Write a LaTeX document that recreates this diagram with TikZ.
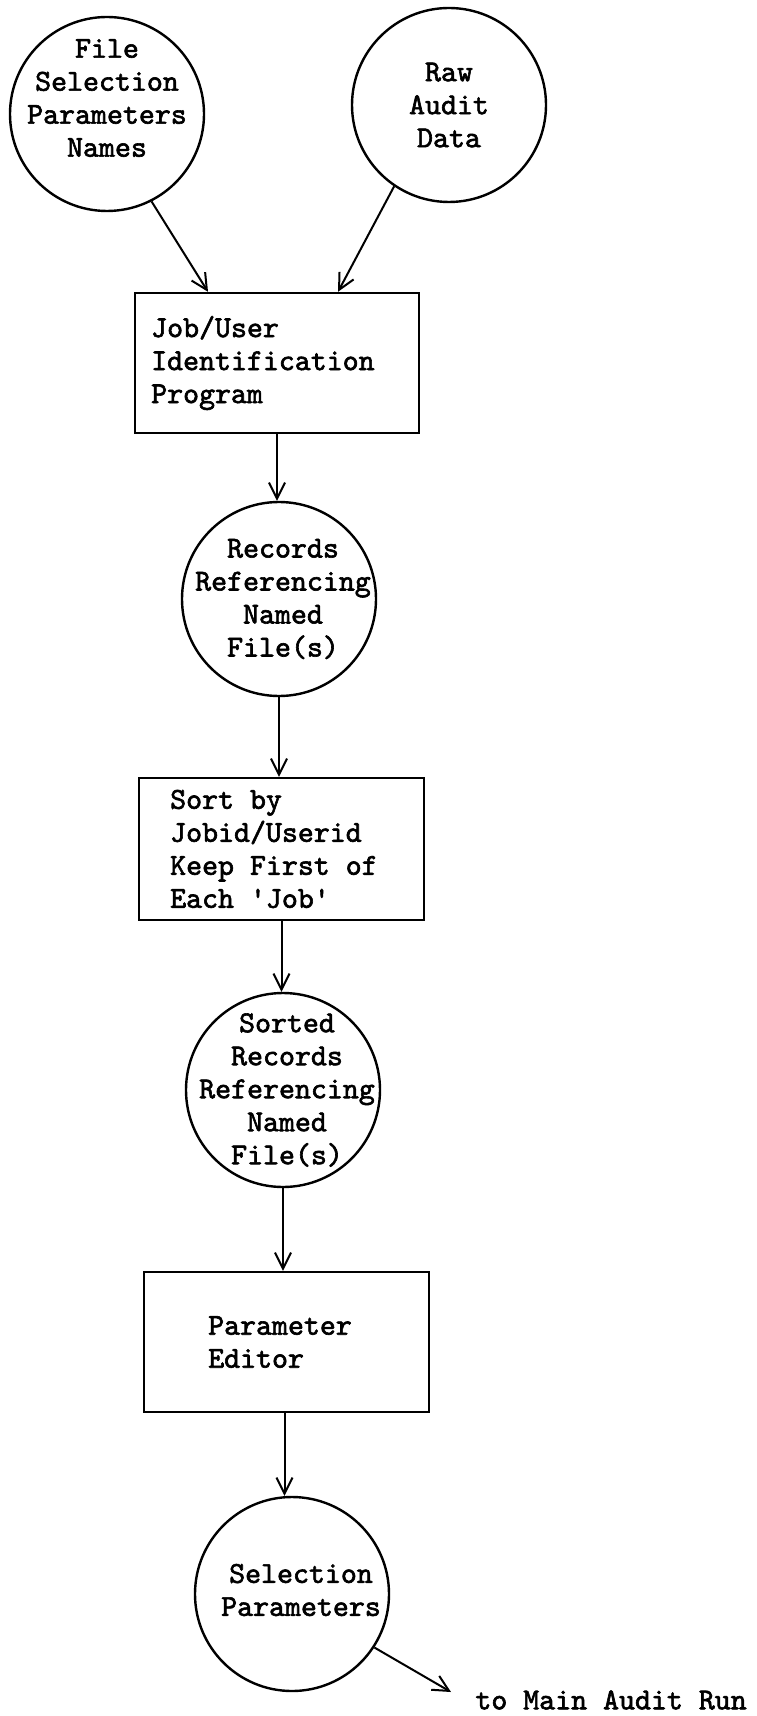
\documentclass[tikz,border=0pt]{standalone}
\usepackage{fontspec}
\newfontfamily\scanfont[FakeBold=2]{lmmono10-regular.otf}
\usetikzlibrary{arrows.meta}
\tikzset{
	store/.style={draw, circle, line width=1.2pt, minimum size=97pt, inner sep=0pt},
	proc/.style={draw, rectangle, line width=1.2pt, minimum width=142.5pt, minimum height=70pt, inner sep=0pt},
	txt/.style={font=\scanfont\fontsize{15.2}{16.5}\selectfont, inner sep=0pt},
	flow/.style={line width=1pt, -{Straight Barb[length=8pt,width=8pt]}}
}

\begin{document}
\begin{tikzpicture}[x=0.5pt,y=-0.5pt]
			%%%%% START %%%%%
			\useasboundingbox[fill=white] (0,0) rectangle (756,1716);
			
			\node[store] (sel) at (107,114) {};
			\node[txt, align=center] (selT) at ([yshift=8pt]sel) {File\\Selection\\Parameters\\Names};
			
			\node[store] (raw) at (449,105) {};
			\node[txt, align=center] (rawT) at (raw) {Raw\\Audit\\Data};
			
			\node[proc, minimum width=142pt] (jobid) at (277,363) {};
			\node[txt, align=left, anchor=west] (jobidT) at ([xshift=8.5pt]jobid.west) {Job/User\\Identification\\Program};
			
			\node[store] (rec) at (279,599) {};
			\node[txt, align=center] (recT) at ([xshift=2pt]rec) {Records\\Referencing\\Named\\File(s)};
			
			\node[proc, minimum height=71pt] (sort) at (281.5,849) {};
			\node[txt, align=left, anchor=west] (sortT) at ([xshift=16pt]sort.west) {Sort by\\Jobid/Userid\\Keep First of\\Each 'Job'};
			
			\node[store] (srec) at (283,1090) {};
			\node[txt, align=center] (srecT) at ([xshift=2pt]srec) {Sorted\\Records\\Referencing\\Named\\File(s)};
			
			\node[proc] (pedit) at (286.5,1342) {};
			\node[txt, align=left, anchor=west] (peditT) at ([xshift=32.5pt]pedit.west) {Parameter\\Editor};
			
			\node[store] (par) at (292,1594) {};
			\node[txt, align=center] (parT) at ([xshift=4.5pt, yshift=2pt]par) {Selection\\Parameters};
			
			\coordinate (main) at (451,1692);
			\node[txt, anchor=west] (mainT) at (475,1700) {to Main Audit Run};
			
			% flows
			\draw[flow] (sel.-63) -- ([xshift=-34.5pt]jobid.north);
			\draw[flow] (raw.-124) -- ([xshift=30.5pt]jobid.north);
			\draw[flow] (jobid.south) -- (jobid.south |- rec.north);
			\draw[flow] (rec.south) -- (rec.south |- sort.north);
			\draw[flow] (sort.south) -- (sort.south |- srec.north);
			\draw[flow] (srec.south) -- (srec.south |- pedit.north);
			\draw[flow] ([xshift=-1pt]pedit.south) -- ([xshift=-1pt]pedit.south |- par.north);
			\draw[flow] (par.-33) -- (main);
			%%%%% END %%%%%
\end{tikzpicture}
\end{document}
